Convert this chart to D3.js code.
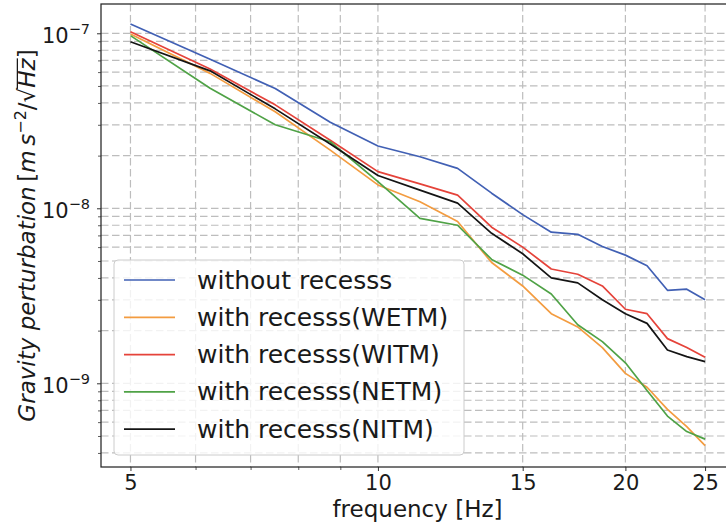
<!DOCTYPE html>
<html>
<head>
<meta charset="utf-8">
<script src="https://cdn.jsdelivr.net/npm/d3@7"></script>
<style>
  body { margin: 0; background: #ffffff; }
  svg text { font-family: "DejaVu Sans", sans-serif; fill: #1a1a1a; }
</style>
</head>
<body>
<svg id="chart" width="726" height="525"></svg>
<script>
// Frequencies at which the gravity perturbation spectrum was evaluated (Hz)
const frequency = [5, 6.25, 7.5, 8.75, 10, 11.25, 12.5, 13.75, 15, 16.25, 17.5, 18.75, 20, 21.25, 22.5, 23.75, 25];

// Gravity perturbation amplitude spectral densities, m s^-2 / sqrt(Hz)
const withoutRecess = [1.13e-7, 7.1e-8, 4.84e-8, 3.1e-8, 2.27e-8, 1.97e-8, 1.69e-8, 1.22e-8, 9.2e-9, 7.3e-9, 7.1e-9, 6.05e-9, 5.4e-9, 4.7e-9, 3.4e-9, 3.45e-9, 3.0e-9];
const recessWETM    = [9.9e-8, 5.9e-8, 3.56e-8, 2.15e-8, 1.36e-8, 1.09e-8, 8.4e-9, 4.9e-9, 3.6e-9, 2.5e-9, 2.1e-9, 1.6e-9, 1.14e-9, 9.5e-10, 7.1e-10, 5.65e-10, 4.4e-10];
const recessWITM    = [1.02e-7, 6.25e-8, 3.9e-8, 2.45e-8, 1.62e-8, 1.38e-8, 1.19e-8, 7.8e-9, 6.0e-9, 4.5e-9, 4.2e-9, 3.6e-9, 2.65e-9, 2.5e-9, 1.8e-9, 1.6e-9, 1.41e-9];
const recessNETM    = [9.7e-8, 4.85e-8, 3.0e-8, 2.4e-8, 1.42e-8, 8.75e-9, 8.0e-9, 5.1e-9, 4.15e-9, 3.24e-9, 2.16e-9, 1.73e-9, 1.31e-9, 9.1e-10, 6.5e-10, 5.3e-10, 4.8e-10];
const recessNITM    = [8.95e-8, 6.1e-8, 3.7e-8, 2.33e-8, 1.54e-8, 1.27e-8, 1.07e-8, 7.2e-9, 5.5e-9, 4.0e-9, 3.75e-9, 3.0e-9, 2.5e-9, 2.2e-9, 1.55e-9, 1.42e-9, 1.33e-9];

const seriesNames = ["without recesss", "with recesss(WETM)", "with recesss(WITM)", "with recesss(NETM)", "with recesss(NITM)"];
const seriesValues = [withoutRecess, recessWETM, recessWITM, recessNETM, recessNITM];
const seriesColors = ["#4160b4", "#f39c40", "#e5433a", "#4fa246", "#141414"];

// Axis ticks
const xMajorTicks = [5, 10, 15, 20, 25];
const xMinorTicks = [6, 7, 8, 9];
const yMajorTicks = [1e-9, 1e-8, 1e-7];
const yMajorExponents = ["\u22129", "\u22128", "\u22127"];

// Plot frame (right edge runs slightly past the visible canvas)
const plot = { left: 101, top: 4, right: 734, bottom: 467 };

const svg = d3.select("#chart");

const x = d3.scaleLog().domain([4.604, 27.11]).range([plot.left, plot.right]);
const y = d3.scaleLog().domain([3.325e-10, 1.47e-7]).range([plot.bottom, plot.top]);

// Minor y ticks: 2..9 times each decade that falls in the domain
const yMinorTicks = [];
[-10, -9, -8].forEach(p => {
  for (let m = 2; m <= 9; m++) {
    const v = m * Math.pow(10, p);
    if (v >= y.domain()[0] && v <= y.domain()[1]) yMinorTicks.push(v);
  }
});

svg.append("defs").append("clipPath").attr("id", "plot-clip")
  .append("rect")
  .attr("x", plot.left).attr("y", plot.top)
  .attr("width", plot.right - plot.left).attr("height", plot.bottom - plot.top);

// Dashed grid, major and minor
const grid = svg.append("g").attr("class", "grid")
  .attr("stroke", "#bdbdbd").attr("stroke-width", 1.2)
  .attr("stroke-dasharray", "7.5,3.5").attr("fill", "none");

const xGrid = Array.from(new Set([...xMajorTicks, ...xMinorTicks])).sort((a, b) => a - b);
grid.selectAll("line.xg").data(xGrid).join("line").attr("class", "xg")
  .attr("x1", d => x(d)).attr("x2", d => x(d))
  .attr("y1", plot.top).attr("y2", plot.bottom);

const yGrid = [...yMajorTicks, ...yMinorTicks];
grid.selectAll("line.yg").data(yGrid).join("line").attr("class", "yg")
  .attr("x1", plot.left).attr("x2", plot.right)
  .attr("y1", d => y(d)).attr("y2", d => y(d));

// Series lines
const line = d3.line()
  .x((d, i) => x(frequency[i]))
  .y(d => y(d));

svg.append("g").attr("clip-path", "url(#plot-clip)")
  .selectAll("path.series").data(seriesValues).join("path")
  .attr("class", "series")
  .attr("fill", "none")
  .attr("stroke", (d, i) => seriesColors[i])
  .attr("stroke-width", 1.7)
  .attr("stroke-linejoin", "round")
  .attr("d", d => line(d));

// Axes: x at bottom, y at left, with log ticks
const xAxis = d3.axisBottom(x).tickValues(xMajorTicks).tickSize(4).tickPadding(4.5)
  .tickFormat(d3.format("d"));
const gx = svg.append("g").attr("transform", `translate(0,${plot.bottom})`).call(xAxis);
gx.select(".domain").remove();
gx.selectAll(".tick line").attr("stroke", "#333").attr("stroke-width", 1);
gx.selectAll(".tick text").attr("font-size", 21).attr("fill", "#1a1a1a")
  .attr("font-family", "DejaVu Sans");

const xMinorAxis = d3.axisBottom(x).tickValues(xMinorTicks).tickSize(3).tickFormat("");
const gxm = svg.append("g").attr("transform", `translate(0,${plot.bottom})`).call(xMinorAxis);
gxm.select(".domain").remove();
gxm.selectAll(".tick line").attr("stroke", "#333").attr("stroke-width", 0.8);

const yAxis = d3.axisLeft(y).tickValues(yMajorTicks).tickSize(4).tickFormat("");
const gy = svg.append("g").attr("transform", `translate(${plot.left},0)`).call(yAxis);
gy.select(".domain").remove();
gy.selectAll(".tick line").attr("stroke", "#333").attr("stroke-width", 1);

const yMinorAxis = d3.axisLeft(y).tickValues(yMinorTicks).tickSize(3).tickFormat("");
const gym = svg.append("g").attr("transform", `translate(${plot.left},0)`).call(yMinorAxis);
gym.select(".domain").remove();
gym.selectAll(".tick line").attr("stroke", "#333").attr("stroke-width", 0.8);

// Power-of-ten tick labels on the y axis
const yLabels = svg.append("g");
yMajorTicks.forEach((v, i) => {
  const t = yLabels.append("text")
    .attr("x", plot.left - 11)
    .attr("y", y(v) + 10)
    .attr("text-anchor", "end")
    .attr("font-size", 21);
  t.append("tspan").text("10");
  t.append("tspan").attr("font-size", 14.5).attr("dy", -9.5).text(yMajorExponents[i]);
});

// Frame
svg.append("rect")
  .attr("x", plot.left).attr("y", plot.top)
  .attr("width", plot.right - plot.left).attr("height", plot.bottom - plot.top)
  .attr("fill", "none").attr("stroke", "#262626").attr("stroke-width", 1.25);

// Axis titles
svg.append("text")
  .attr("x", (plot.left + plot.right) / 2)
  .attr("y", 517)
  .attr("text-anchor", "middle")
  .attr("font-size", 23)
  .text("frequency [Hz]");

const yTitleGroup = svg.append("g")
  .attr("transform", `translate(35,${(plot.top + plot.bottom) / 2}) rotate(-90)`);
const yTitle = yTitleGroup.append("text")
  .attr("x", 0).attr("y", 0)
  .attr("text-anchor", "middle")
  .attr("font-size", 23);
yTitle.append("tspan").attr("font-style", "italic").text("Gravity perturbation");
yTitle.append("tspan").text("\u2009[");
yTitle.append("tspan").attr("font-style", "italic").text("m\u2009s");
yTitle.append("tspan").attr("font-size", 16).attr("dy", -9.5).text("\u22122");
yTitle.append("tspan").attr("dy", 9.5).text("/\u221A");
yTitle.append("tspan").attr("font-style", "italic").text("Hz");
yTitle.append("tspan").text("]");

// Radical overbar spanning "Hz"
{
  const node = yTitle.node();
  const full = node.textContent;
  const iRoot = full.indexOf("\u221A");
  const iZ = full.lastIndexOf("z");
  const rootBox = node.getExtentOfChar(iRoot);
  const zBox = node.getExtentOfChar(iZ);
  const topY = rootBox.y + rootBox.height * 0.13;
  yTitleGroup.append("line")
    .attr("x1", rootBox.x + rootBox.width * 0.92).attr("x2", zBox.x + zBox.width)
    .attr("y1", topY).attr("y2", topY)
    .attr("stroke", "#1a1a1a").attr("stroke-width", 1.3);
}

// Legend, lower left
const legend = svg.append("g");
legend.append("rect")
  .attr("x", 114).attr("y", 260).attr("width", 350).attr("height", 195)
  .attr("rx", 4).attr("ry", 4)
  .attr("fill", "#ffffff").attr("fill-opacity", 0.8)
  .attr("stroke", "#cccccc").attr("stroke-width", 1);
const rows = legend.selectAll("g.entry").data(seriesNames).join("g")
  .attr("class", "entry")
  .attr("transform", (d, i) => `translate(0,${280 + i * 37.3})`);
rows.append("line")
  .attr("x1", 124).attr("x2", 175).attr("y1", 0).attr("y2", 0)
  .attr("stroke", (d, i) => seriesColors[i]).attr("stroke-width", 1.7);
rows.append("text")
  .attr("x", 197).attr("y", 8.5)
  .attr("font-size", 25)
  .text(d => d);
</script>
</body>
</html>
